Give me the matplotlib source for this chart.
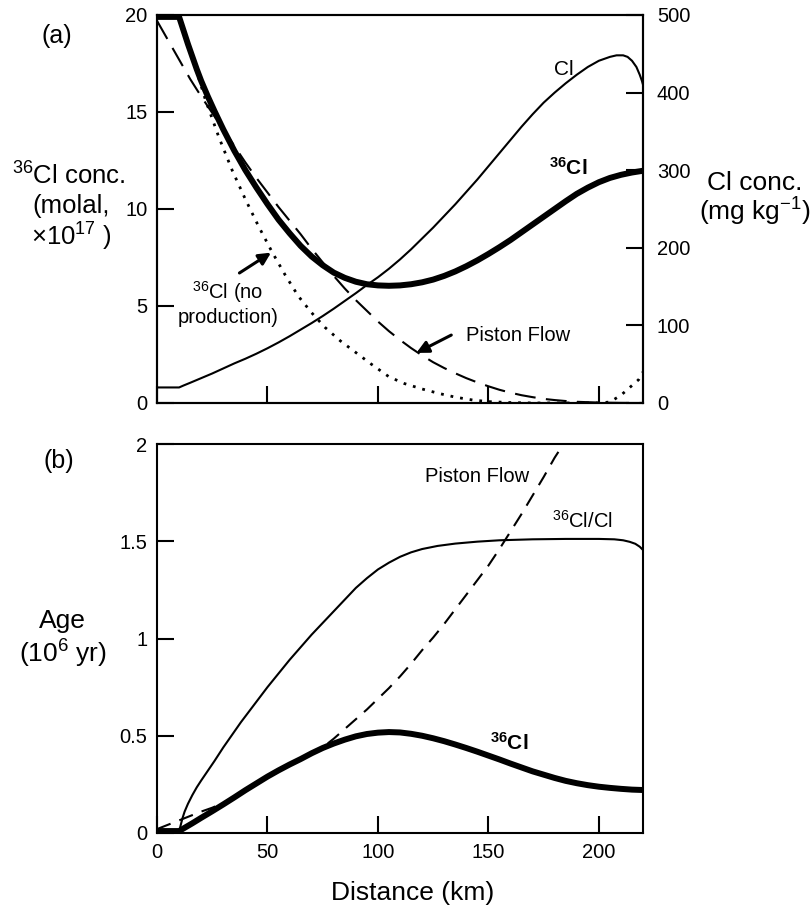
import numpy as np
import matplotlib.pyplot as plt

plt.rcParams['font.family'] = 'Liberation Sans'
plt.rcParams['mathtext.fontset'] = 'custom'
plt.rcParams['mathtext.rm'] = 'Liberation Sans'
plt.rcParams['mathtext.it'] = 'Liberation Sans:italic'
plt.rcParams['mathtext.bf'] = 'Liberation Sans:bold'
plt.rcParams['mathtext.default'] = 'regular'

# (a) 36Cl concentration (molal, x1e17) vs distance (km)
dist_cl36 = [0, 10, 12, 14, 16, 18, 20, 23, 26, 30, 35, 40, 45, 50, 55, 60, 65,
             70, 75, 80, 85, 90, 95, 100, 105, 110, 115, 120, 125, 130, 135,
             140, 145, 150, 155, 160, 165, 170, 175, 180, 185, 190, 195, 200,
             205, 210, 215, 220]
cl36_conc = [19.9, 19.9, 19.2, 18.5, 17.85, 17.2, 16.6, 15.8, 15.05, 14.1, 13.0,
             12.0, 11.1, 10.25, 9.45, 8.75, 8.1, 7.55, 7.1, 6.72, 6.45, 6.25,
             6.12, 6.06, 6.04, 6.06, 6.12, 6.22, 6.36, 6.55, 6.78, 7.05, 7.35,
             7.68, 8.03, 8.4, 8.8, 9.2, 9.6, 10.0, 10.4, 10.78, 11.1, 11.38,
             11.6, 11.76, 11.88, 11.97]

# piston flow 36Cl
dist_piston = [0, 5, 10, 15, 20, 25, 30, 35, 40, 45, 50, 55, 60, 65, 70, 75, 80,
               85, 90, 95, 100, 105, 110, 115, 120, 125, 130, 135, 140, 145,
               150, 155, 160, 165, 170, 175, 180, 185, 190, 200, 210, 220]
piston_conc = [19.7, 18.7, 17.7, 16.7, 15.8, 14.95, 14.1, 13.25, 12.4, 11.6,
               10.85, 10.1, 9.4, 8.7, 7.95, 7.25, 6.55, 5.9, 5.3, 4.75, 4.2, 3.7,
               3.25, 2.83, 2.45, 2.1, 1.8, 1.53, 1.28, 1.06, 0.86, 0.68, 0.53,
               0.4, 0.3, 0.21, 0.15, 0.1, 0.06, 0.02, 0.005, 0.0]

# 36Cl with no production
dist_noprod = [0, 10, 16, 22, 28, 34, 40, 46, 52, 58, 64, 70, 76, 83, 90, 97,
               105, 112, 120, 128, 135, 143, 150, 160, 170, 200, 205, 210, 214,
               218, 220]
noprod_conc = [20, 20, 17.8, 15.6, 13.7, 12.0, 10.5, 9.1, 7.8, 6.6, 5.5, 4.65,
               3.9, 3.2, 2.6, 2.0, 1.35, 1.0, 0.72, 0.48, 0.3, 0.15, 0.07, 0.02,
               0.0, 0.0, 0.05, 0.4, 0.8, 1.2, 1.6]

# Cl concentration (mg/kg, right axis)
dist_cl = [0, 10, 12, 15, 20, 25, 30, 35, 40, 45, 50, 55, 60, 65, 70, 75, 80,
           85, 90, 95, 100, 105, 110, 115, 120, 125, 130, 135, 140, 145, 150,
           155, 160, 165, 170, 175, 180, 185, 190, 195, 200, 205, 208, 211, 213,
           215, 217, 218.5, 219.5, 220]
cl_conc = [20, 20, 22.5, 26, 32, 38, 44.5, 51, 57, 63.5, 70.5, 78, 86, 94.5,
           103, 112, 121.5, 131.5, 141.5, 152, 162, 173, 185, 198, 212, 226,
           241, 256, 272, 288, 305, 322, 339, 356, 372, 387, 400, 412, 423, 433,
           441, 446, 448, 448, 446, 441, 433, 423, 415, 410]

# (b) ages (1e6 yr)
dist_ratio = [0, 10, 10.5, 11.5, 12.5, 14, 16, 18, 20, 23, 26, 30, 34, 38, 42,
              46, 50, 55, 60, 65, 70, 75, 80, 85, 90, 95, 100, 105, 110, 115,
              120, 127, 135, 145, 155, 170, 185, 200, 207, 211, 214, 216.5,
              218.5, 220]
age_ratio = [0.0, 0.0, 0.03, 0.075, 0.11, 0.15, 0.195, 0.235, 0.27, 0.32, 0.37,
             0.44, 0.505, 0.57, 0.63, 0.69, 0.75, 0.82, 0.89, 0.955, 1.02, 1.08,
             1.14, 1.2, 1.26, 1.31, 1.355, 1.39, 1.42, 1.443, 1.46, 1.476,
             1.488, 1.498, 1.505, 1.51, 1.512, 1.512, 1.51, 1.505, 1.497, 1.487,
             1.472, 1.455]

dist_age36 = [0, 10, 13, 16, 20, 25, 30, 35, 40, 45, 50, 55, 60, 65, 70, 75, 80,
              85, 90, 95, 100, 105, 110, 115, 120, 125, 130, 135, 140, 145, 150,
              155, 160, 165, 170, 175, 180, 185, 190, 195, 200, 205, 210, 215,
              220]
age_cl36 = [0.01, 0.01, 0.03, 0.05, 0.078, 0.112, 0.147, 0.183, 0.22, 0.255,
            0.29, 0.322, 0.352, 0.38, 0.41, 0.437, 0.46, 0.48, 0.497, 0.509,
            0.516, 0.519, 0.517, 0.51, 0.5, 0.487, 0.472, 0.455, 0.437, 0.418,
            0.398, 0.378, 0.357, 0.337, 0.317, 0.3, 0.283, 0.268, 0.256, 0.246,
            0.238, 0.232, 0.227, 0.223, 0.221]

dist_agepf = [0, 10, 20, 25, 30, 35, 40, 45, 50, 55, 60, 65, 70, 75, 80, 85, 90,
              95, 100, 105, 110, 115, 120, 125, 130, 135, 140, 145, 150, 155,
              160, 165, 170, 175, 180, 184]
age_piston = [0.02, 0.065, 0.11, 0.13, 0.155, 0.185, 0.22, 0.255, 0.29, 0.322,
              0.352, 0.38, 0.41, 0.44, 0.485, 0.535, 0.585, 0.635, 0.69, 0.745,
              0.805, 0.87, 0.94, 1.005, 1.075, 1.15, 1.225, 1.3, 1.375, 1.46,
              1.55, 1.64, 1.735, 1.83, 1.93, 2.0]

xticks = [0, 50, 100, 150, 200]

fig = plt.figure(figsize=(8.11, 9.08), dpi=100)
ax1 = fig.add_axes([0.1936, 0.5562, 0.5993, 0.4273])
ax2 = ax1.twinx()
ax3 = fig.add_axes([0.1936, 0.0826, 0.5993, 0.4284])

spine_w = 1.5
tick_kw = dict(direction='in', length=12, width=1.5, labelsize=14.5)

# ---- panel (a)
ax1.plot(dist_cl36, cl36_conc, color='black', lw=4.3)
ax1.plot(dist_piston, piston_conc, color='black', lw=1.5, dashes=(10, 5))
ax1.plot(dist_noprod, noprod_conc, color='black', lw=2.0, dashes=(1, 2.5))
ax2.plot(dist_cl, cl_conc, color='black', lw=1.5)

ax1.set_xlim(0, 220)
ax1.set_ylim(0, 20)
ax1.set_xticks(xticks)
ax1.set_yticks([0, 5, 10, 15, 20])
ax1.tick_params(axis='x', labelbottom=False, **tick_kw)
ax1.tick_params(axis='y', pad=7, **tick_kw)
ax2.set_ylim(0, 500)
ax2.set_yticks([0, 100, 200, 300, 400, 500])
ax2.tick_params(axis='y', pad=10, **tick_kw)
for ax in (ax1, ax2):
    for s in ax.spines.values():
        s.set_linewidth(spine_w)

ax1.text(184, 17.2, 'Cl', fontsize=15, ha='center', va='center')
ax1.text(186.3, 12.1, r'$\mathbf{^{36}Cl}$', fontsize=15, ha='center', va='center')
ax1.text(32, 5.7, '$^{36}$Cl (no', fontsize=14.5, ha='center', va='center')
ax1.text(32, 4.4, 'production)', fontsize=14.5, ha='center', va='center')
ax1.annotate('', xy=(51.6, 7.75), xytext=(37.3, 6.7),
             arrowprops=dict(arrowstyle='-|>', lw=2.2, color='black',
                             mutation_scale=18, shrinkA=0, shrinkB=0))
ax1.text(140, 3.5, 'Piston Flow', fontsize=14.5, ha='left', va='center')
ax1.annotate('', xy=(117.4, 2.58), xytext=(133.2, 3.5),
             arrowprops=dict(arrowstyle='-|>', lw=2.2, color='black',
                             mutation_scale=18, shrinkA=0, shrinkB=0))

# ---- panel (b)
ax3.plot(dist_ratio, age_ratio, color='black', lw=1.5)
ax3.plot(dist_age36, age_cl36, color='black', lw=4.3)
ax3.plot(dist_agepf, age_piston, color='black', lw=1.5, dashes=(7, 4.5))
ax3.set_xlim(0, 220)
ax3.set_ylim(0, 2)
ax3.set_xticks(xticks)
ax3.set_xticklabels([str(v) for v in xticks])
ax3.set_yticks([0, 0.5, 1, 1.5, 2])
ax3.set_yticklabels(['0', '0.5', '1', '1.5', '2'])
ax3.tick_params(axis='x', pad=7, **tick_kw)
ax3.tick_params(axis='y', pad=7, **tick_kw)
for s in ax3.spines.values():
    s.set_linewidth(spine_w)

ax3.text(144.9, 1.835, 'Piston Flow', fontsize=14.5, ha='center', va='center')
ax3.text(192.6, 1.604, '$^{36}$Cl/Cl', fontsize=14.5, ha='center', va='center')
ax3.text(159.3, 0.463, r'$\mathbf{^{36}Cl}$', fontsize=15, ha='center', va='center')

# ---- figure labels
W, H = 811.0, 908.0
def fx(px):
    return px / W
def fy(py):
    return 1 - py / H

fig.text(fx(57), fy(36), '(a)', fontsize=18, ha='center', va='center')
fig.text(fx(59), fy(461), '(b)', fontsize=18, ha='center', va='center')

fig.text(fx(69), fy(185), '$^{36}$Cl conc.', fontsize=18.5, ha='center', va='baseline')
fig.text(fx(71), fy(213), '(molal,', fontsize=18.5, ha='center', va='baseline')
fig.text(fx(71), fy(246), '\u00d710$^{17}$ )', fontsize=18.5, ha='center', va='baseline')

fig.text(fx(755), fy(190), 'Cl conc.', fontsize=19, ha='center', va='baseline')
fig.text(fx(755), fy(221), '(mg kg$^{-1}$)', fontsize=19, ha='center', va='baseline')

fig.text(fx(62.5), fy(628), 'Age', fontsize=19, ha='center', va='baseline')
fig.text(fx(62.5), fy(663), '(10$^{6}$ yr)', fontsize=19, ha='center', va='baseline')

fig.text(fx(412.5), fy(900), 'Distance (km)', fontsize=19, ha='center', va='baseline')

fig.savefig('out.png', dpi=100)
